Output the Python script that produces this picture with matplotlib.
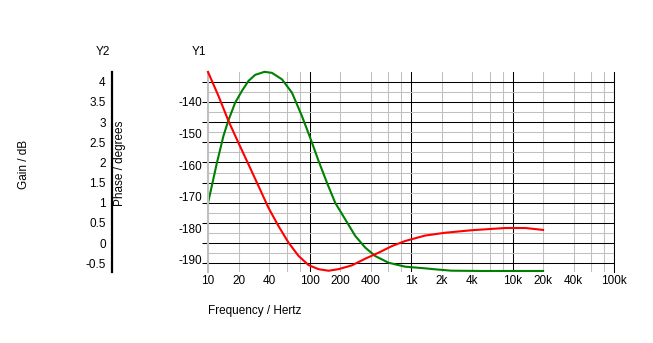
import numpy as np
import matplotlib
matplotlib.use("Agg")
import matplotlib.pyplot as plt
from matplotlib.ticker import FixedLocator, FuncFormatter, NullFormatter

plt.rcParams['font.family'] = ['Liberation Sans', 'DejaVu Sans']
fs = 8.5

# gain response (scale Y2)
gain_freq = [10, 12.24, 14.21, 15.92, 18.52, 21.56, 25.06, 29.17, 36.0, 42.6, 53.5,
             67.1, 84.2, 101.6, 122.7, 148.4, 179.1, 224.8, 282, 353.8, 443.9, 600,
             877, 1370, 1730, 2510, 5000, 10000, 20000]
gain_db = [0.99, 1.99, 2.66, 3.05, 3.48, 3.77, 4.02, 4.17, 4.245, 4.22, 4.06,
           3.73, 3.15, 2.61, 2.04, 1.50, 1.00, 0.59, 0.18, -0.11, -0.32, -0.485,
           -0.584, -0.624, -0.649, -0.683, -0.69, -0.69, -0.69]

# phase response (scale Y1)
phase_freq = [10, 12.69, 15.92, 19.96, 25.06, 31.4, 39.4, 49.5, 62.1, 77.9, 97.8,
              122.7, 154, 193, 261.6, 353.8, 479, 649, 877, 1370, 2160, 3960, 8470,
              13400, 20000]
phase_deg = [-130.6, -138.2, -146.1, -153.0, -159.8, -166.6, -173.5, -179.3, -184.5,
             -188.7, -191.6, -192.9, -193.4, -192.9, -191.7, -189.6, -187.7, -185.6,
             -184.0, -182.3, -181.4, -180.6, -179.9, -179.9, -180.5]

gain_ticks = np.arange(-0.5, 4.01, 0.5)
phase_ticks = [-140, -150, -160, -170, -180, -190]
freq_major = [10, 100, 1000, 10000, 100000]
freq_minor = [m * d for d in [10, 100, 1000, 10000] for m in (2, 4, 6, 8)]
freq_names = {10: "10", 20: "20", 40: "40", 100: "100", 200: "200", 400: "400",
              1000: "1k", 2000: "2k", 4000: "4k", 10000: "10k", 20000: "20k",
              40000: "40k", 100000: "100k"}

W, H = 653, 343
fig = plt.figure(figsize=(W / 100, H / 100), dpi=100)
x0, x1, ytop, ybot = 208, 614, 71.7, 271.7
rect = [x0 / W, (H - ybot) / H, (x1 - x0) / W, (ybot - ytop) / H]

ax = fig.add_axes(rect)
ax.set_xscale('log')
ax.set_xlim(10, 100000)
ax.set_ylim(-0.708, 4.248)
ax.set_axisbelow(True)

ax.xaxis.set_major_locator(FixedLocator(freq_major))
ax.xaxis.set_minor_locator(FixedLocator(freq_minor))
lab = lambda v, p: freq_names.get(int(round(v)), "")
ax.xaxis.set_major_formatter(FuncFormatter(lab))
ax.xaxis.set_minor_formatter(FuncFormatter(lab))
ax.tick_params(axis='x', which='both', length=0, pad=2.5, labelsize=fs)

ax.yaxis.set_major_locator(FixedLocator(gain_ticks))
ax.yaxis.set_minor_locator(FixedLocator(gain_ticks + 0.25))
ax.yaxis.set_major_formatter(NullFormatter())
ax.tick_params(axis='y', which='major', length=4.3, width=0.75, color='black', direction='out')
ax.tick_params(axis='y', which='minor', length=0)

ax.grid(True, which='major', color='black', lw=0.75)
ax.grid(True, which='minor', color='#c0c0c0', lw=0.75)
for gl, loc in zip(ax.get_xgridlines(), ax.get_xticks()):
    if loc == 10:
        gl.set_color('#c0c0c0')

for s in ['top', 'bottom']:
    ax.spines[s].set_visible(False)
ax.spines['left'].set_color('#c0c0c0')
ax.spines['left'].set_linewidth(1.5)
ax.spines['right'].set_color('black')
ax.spines['right'].set_linewidth(0.75)

ax.plot(gain_freq, gain_db, color='#008000', lw=1.5, clip_on=False)

# phase on a twin scale, labels on the left
axp = ax.twinx()
axp.set_ylim(-193.7, -130.52)
axp.plot(phase_freq, phase_deg, color='#ff0000', lw=1.5, clip_on=False)
axp.yaxis.tick_left()
axp.set_yticks(phase_ticks)
axp.set_yticklabels([str(t) for t in phase_ticks])
axp.tick_params(axis='y', length=0, pad=4.5, labelsize=fs)
for s in axp.spines.values():
    s.set_visible(False)

# separate gain scale further left
axg = fig.add_axes([112 / W, rect[1], 0.001, rect[3]])
axg.set_ylim(ax.get_ylim())
axg.set_yticks(gain_ticks)
axg.set_yticklabels(["%g" % t for t in gain_ticks])
axg.set_xticks([])
axg.tick_params(axis='y', length=0, pad=4.5, labelsize=fs)
for s in ['top', 'bottom', 'right']:
    axg.spines[s].set_visible(False)
axg.spines['left'].set_linewidth(1.6)
axg.patch.set_visible(False)

fig.text(103 / W, 1 - 51.7 / H, "Y2", ha='center', va='center', fontsize=fs)
fig.text(199 / W, 1 - 51.7 / H, "Y1", ha='center', va='center', fontsize=fs)
fig.text(24 / W, 1 - 164 / H, "Gain / dB", ha='center', va='center', rotation=90, fontsize=fs)
fig.text(120 / W, 1 - 163 / H, "Phase / degrees", ha='center', va='center', rotation=90, fontsize=fs)
fig.text(208 / W, 1 - 310.7 / H, "Frequency / Hertz", ha='left', va='center', fontsize=fs)

fig.savefig("out.png", dpi=100)
